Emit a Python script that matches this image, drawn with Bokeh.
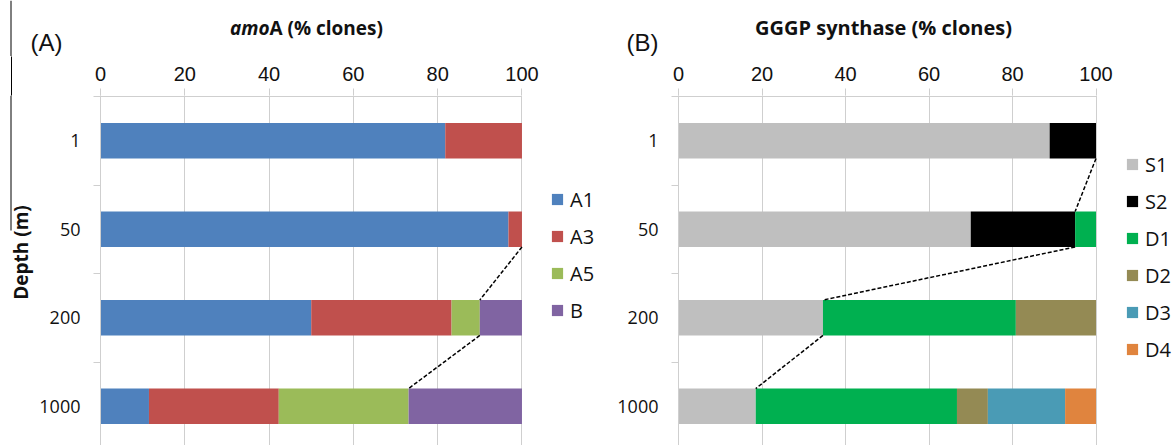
import math

from bokeh.core.properties import value
from bokeh.embed import file_html
from bokeh.layouts import column, row
from bokeh.models import ColumnDataSource, FixedTicker, Legend, LegendItem, Range1d
from bokeh.plotting import figure
from bokeh.resources import INLINE

# ---- data -------------------------------------------------------------
depths = ["1", "50", "200", "1000"]          # sampling depth (m)
x_ticks = [0, 20, 40, 60, 80, 100]

# amoA clone library composition (% clones)
amoa_groups = ["A1", "A3", "A5", "B"]
amoa_A1 = [81.8, 96.8, 50.0, 11.5]
amoa_A3 = [18.2, 3.2, 33.3, 30.8]
amoa_A5 = [0.0, 0.0, 6.7, 30.8]
amoa_B = [0.0, 0.0, 10.0, 26.9]

# GGGP synthase clone library composition (% clones)
gggp_groups = ["S1", "S2", "D1", "D2", "D3", "D4"]
gggp_S1 = [88.9, 70.0, 34.6, 18.5]
gggp_S2 = [11.1, 25.0, 0.0, 0.0]
gggp_D1 = [0.0, 5.0, 46.2, 48.2]
gggp_D2 = [0.0, 0.0, 19.2, 7.4]
gggp_D3 = [0.0, 0.0, 0.0, 18.5]
gggp_D4 = [0.0, 0.0, 0.0, 7.4]

# ---- styling / geometry (px) -------------------------------------------
amoa_colors = ["#4F81BD", "#C0504D", "#9BBB59", "#8064A2"]
gggp_colors = ["#BFBFBF", "#000000", "#00B050", "#948A54", "#4A9BB5", "#E0843E"]
GRID = "#CFCFCF"
INK = "#111111"
H = 445
HEAD_H = 56          # band holding panel letter and title
BODY_H = H - HEAD_H
AXIS_H = 39          # room for the top value axis
FRAME_TOP = HEAD_H + AXIS_H
BAND = 88.5          # height of one depth band
BAR_H = 0.4
STRIP_W = 36
EDGE_X = 10.5        # thin rule along the left edge
A_W = 600            # width of panel A (px); panel B takes the rest
B_W = 1174 - A_W


def blank(width, height, xr, yr, top=0):
    p = figure(width=width, height=height, x_range=xr, y_range=yr,
               x_axis_location=None, y_axis_location=None,
               output_backend="svg", toolbar_location=None,
               min_border=0, min_border_left=0, min_border_right=0,
               min_border_top=top, min_border_bottom=0)
    p.outline_line_color = None
    p.grid.visible = False
    p.background_fill_color = "white"
    p.border_fill_color = "white"
    return p


def header(width, tag, tag_x, title_x, italic_part, plain_part, title_size,
           edge_line=False):
    p = blank(width, HEAD_H, Range1d(0, width), Range1d(HEAD_H, 0))
    p.text(x=[tag_x], y=[42], text=[tag], text_font=value("Liberation Sans"),
           text_font_size="24px", text_align="center", text_baseline="middle",
           text_color=INK)
    if italic_part:
        p.text(x=[title_x], y=[27], text=[italic_part], text_font=value("Open Sans"),
               text_font_style="bold italic", text_font_size=title_size,
               text_align="right", text_baseline="middle", text_color=INK)
        p.text(x=[title_x], y=[27], text=[plain_part], text_font=value("Open Sans"),
               text_font_style="bold", text_font_size=title_size,
               text_align="left", text_baseline="middle", text_color=INK)
    else:
        p.text(x=[title_x], y=[27], text=[plain_part], text_font=value("Open Sans"),
               text_font_style="bold", text_font_size=title_size,
               text_align="center", text_baseline="middle", text_color=INK)
    if edge_line:
        p.segment(x0=[EDGE_X], y0=[0], x1=[EDGE_X], y1=[HEAD_H], line_color="black",
                  line_width=1)
    return p


def depth_strip():
    # same top border as the charts so the frames line up
    p = blank(STRIP_W, BODY_H, Range1d(0, STRIP_W), Range1d(H, FRAME_TOP),
              top=AXIS_H)
    # continue the edge rule through the top border as a long tick mark
    ax = figure(x_axis_location="above").xaxis[0].__class__()
    ax.ticker = FixedTicker(ticks=[EDGE_X])
    ax.axis_line_color = None
    ax.major_tick_line_color = "black"
    ax.major_tick_out = AXIS_H
    ax.major_tick_in = 0
    ax.minor_tick_line_color = None
    ax.major_label_text_font_size = "0px"
    ax.major_label_standoff = 0
    ax.major_label_overrides = {EDGE_X: ""}
    p.add_layout(ax, "above")
    p.segment(x0=[EDGE_X], y0=[FRAME_TOP], x1=[EDGE_X], y1=[230],
              line_color="black", line_width=1)
    p.text(x=[20], y=[252], text=["Depth (m)"], angle=math.pi / 2,
           text_font=value("Open Sans"), text_font_style="bold",
           text_font_size="19px", text_align="center", text_baseline="middle",
           text_color=INK)
    return p


def chart(groups, columns, colors, link_index, link_from, width, left, scale,
          legend_xy):
    n = len(depths)
    pos = [i + 0.5 for i in range(n)]
    data = dict(pos=pos)
    for g, col in zip(groups, columns):
        data[g] = col
    src = ColumnDataSource(data)

    frame_w = width - left
    frame_h = BODY_H - AXIS_H
    p = figure(width=width, height=BODY_H,
               x_range=Range1d(0, frame_w / scale),
               y_range=Range1d((frame_h - 1) / BAND, -1 / BAND),
               x_axis_location="above", y_axis_location="left",
               output_backend="svg", toolbar_location=None,
               min_border_left=left, min_border_right=0,
               min_border_top=AXIS_H, min_border_bottom=0)
    p.outline_line_color = None
    p.background_fill_color = "white"
    p.border_fill_color = "white"

    # top value axis (its line is drawn only across 0-100 below)
    xa = p.xaxis[0]
    xa.ticker = FixedTicker(ticks=x_ticks)
    xa.axis_line_color = None
    xa.major_tick_line_color = GRID
    xa.major_tick_out = 7
    xa.major_tick_in = 0
    xa.minor_tick_line_color = None
    xa.major_label_text_font = "Liberation Sans"
    xa.major_label_text_font_size = "20px"
    xa.major_label_text_color = INK
    xa.major_label_standoff = 8
    p.xgrid.grid_line_color = GRID
    p.ygrid.grid_line_color = None
    p.segment(x0=[x_ticks[0]], y0=[0], x1=[x_ticks[-1]], y1=[0],
              line_color=GRID, line_width=1)

    # depth category axis: labels at band centres, tick marks at band edges
    ya = p.yaxis[0]
    ya.ticker = FixedTicker(ticks=pos, minor_ticks=list(range(n + 1)))
    ya.major_label_overrides = {v: d for v, d in zip(pos, depths)}
    ya.axis_line_color = GRID
    ya.major_tick_line_color = None
    ya.major_tick_out = 0
    ya.major_tick_in = 0
    ya.minor_tick_line_color = GRID
    ya.minor_tick_out = 7
    ya.minor_tick_in = 0
    ya.major_label_text_font = "Open Sans"
    ya.major_label_text_font_size = "18px"
    ya.major_label_text_color = INK
    ya.major_label_standoff = 13

    rends = p.hbar_stack(groups, y="pos", height=BAR_H, source=src,
                         fill_color=colors, line_color=None)

    # dashed link following the cumulative end of one group from bar to bar
    ends = [sum(columns[k][i] for k in range(link_index + 1)) for i in range(n)]
    idx = range(link_from, n - 1)
    seg = ColumnDataSource(dict(
        x0=[ends[i] for i in idx],
        y0=[pos[i] + BAR_H / 2 for i in idx],
        x1=[ends[i + 1] for i in idx],
        y1=[pos[i + 1] - BAR_H / 2 for i in idx],
    ))
    p.segment("x0", "y0", "x1", "y1", source=seg, line_color="black",
              line_width=1.5, line_dash="4 2")

    legend = Legend(
        items=[LegendItem(label=g, renderers=[r]) for g, r in zip(groups, rends)],
        location=legend_xy, glyph_width=14, glyph_height=14,
        label_height=30, spacing=7, padding=0, margin=0, label_standoff=6,
        border_line_color=None, background_fill_alpha=0,
        label_text_font="Open Sans", label_text_font_size="20px",
        label_text_color=INK)
    p.add_layout(legend)
    return p


head_a = header(A_W, "(A)", 46, 269, "amo", "A (% clones)", "19px", edge_line=True)
head_b = header(B_W, "(B)", 642 - A_W, 883 - A_W, "", "GGGP synthase (% clones)",
                "20px")
strip_a = depth_strip()
chart_a = chart(amoa_groups, [amoa_A1, amoa_A3, amoa_A5, amoa_B], amoa_colors,
                link_index=2, link_from=1, width=A_W - STRIP_W, left=99 - STRIP_W,
                scale=4.223, legend_xy=(450, 120))
chart_b = chart(gggp_groups, [gggp_S1, gggp_S2, gggp_D1, gggp_D2, gggp_D3, gggp_D4],
                gggp_colors, link_index=1, link_from=0, width=B_W, left=678 - A_W,
                scale=4.175, legend_xy=(447, 81))

layout = column(row(head_a, head_b), row(strip_a, chart_a, chart_b))
open("out.html", "w").write(file_html(layout, INLINE))
